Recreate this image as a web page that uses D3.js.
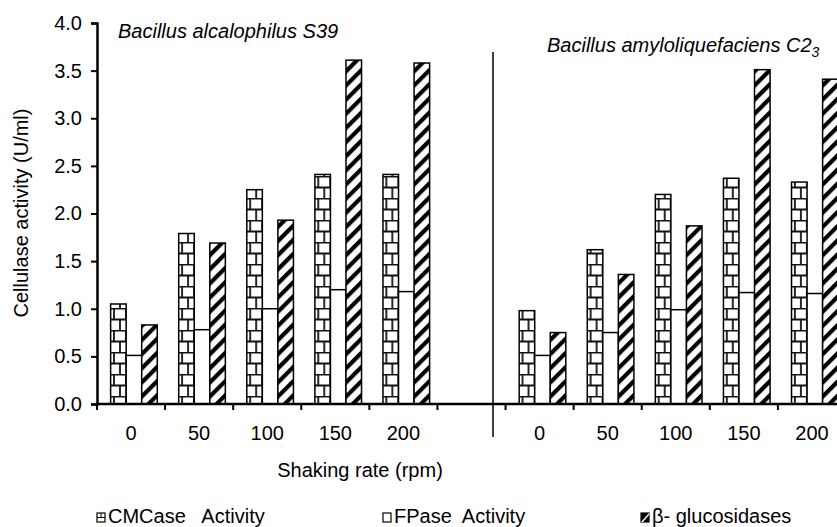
<!DOCTYPE html>
<html>
<head>
<meta charset="utf-8">
<script src="https://cdn.jsdelivr.net/npm/d3@7"></script>
<style>
  body { margin: 0; background: #fff; }
  text { font-family: "Liberation Sans", Arial, sans-serif; fill: #000; }
</style>
</head>
<body>
<svg width="837" height="527"></svg>
<script>
var width = 837
var height = 527
var fs = 20

// shaking rates, one group per strain
const rates = ["0", "50", "100", "150", "200"]
const series = ["CMCase   Activity", "FPase  Activity", "β- glucosidases"]

// Bacillus alcalophilus S39
const cmcS39 = [1.05, 1.79, 2.25, 2.41, 2.41]
const fpS39  = [0.51, 0.78, 1.00, 1.20, 1.18]
const bgS39  = [0.83, 1.69, 1.93, 3.61, 3.58]

// Bacillus amyloliquefaciens C2_3
const cmcC23 = [0.98, 1.62, 2.20, 2.37, 2.33]
const fpC23  = [0.51, 0.75, 0.99, 1.17, 1.16]
const bgC23  = [0.75, 1.36, 1.87, 3.51, 3.41]

const yTicks = [0, 0.5, 1, 1.5, 2, 2.5, 3, 3.5, 4]

// 11 slots: 5 rates, an empty one, 5 rates again
var slots = rates.concat([""]).concat(rates)
var rows = []
rates.forEach((r, i) => rows.push({slot: i, vals: [cmcS39[i], fpS39[i], bgS39[i]]}))
rates.forEach((r, i) => rows.push({slot: i + 6, vals: [cmcC23[i], fpC23[i], bgC23[i]]}))

const svg = d3.select("svg")

x = d3.scaleBand()
    .domain(d3.range(slots.length))
    .range([97, 846])

var bw = x.bandwidth()
xs = d3.scaleBand()
    .domain([0, 1, 2])
    .range([0.2 * bw, 0.885 * bw])

y = d3.scaleLinear()
    .domain([0, 4])
    .range([404, 23])

var defs = svg.append("defs")

// brick pattern for CMCase
var brick = defs.append("pattern")
  .attr("id", "brick")
  .attr("patternUnits", "userSpaceOnUse")
  .attr("width", 12).attr("height", 22)
brick.append("rect").attr("width", 12).attr("height", 22).attr("fill", "#fff")
brick.append("path")
  .attr("d", "M0,0.5H12M0,11.5H12M5,0V11.5M11,11.5V22")
  .attr("stroke", "#111").attr("stroke-width", 1.8).attr("fill", "none")

// diagonal stripes for beta-glucosidases
var diag = defs.append("pattern")
  .attr("id", "diag")
  .attr("patternUnits", "userSpaceOnUse")
  .attr("width", 10).attr("height", 10)
  .attr("patternTransform", "rotate(45)")
diag.append("rect").attr("width", 10).attr("height", 10).attr("fill", "#fff")
diag.append("rect").attr("width", 4.2).attr("height", 10).attr("fill", "#000")

var fills = ["url(#brick)", "#fff", "url(#diag)"]

// bars
var groups = svg.append("g")
  .selectAll("g")
  .data(rows)
  .enter().append("g")
  .attr("transform", d => "translate(" + x(d.slot) + ",0)")

groups.selectAll("rect")
  .data(d => d.vals.map((v, k) => ({k: k, v: v})))
  .enter().append("rect")
  .attr("x", d => xs(d.k))
  .attr("y", d => y(d.v))
  .attr("width", xs.bandwidth())
  .attr("height", d => y(0) - y(d.v))
  .attr("fill", d => fills[d.k])
  .attr("stroke", "#000")
  .attr("stroke-width", 1.5)

// y axis
const gy = svg.append("g")
  .attr("transform", "translate(97,0)")
  .call(d3.axisLeft(y).tickValues(yTicks).tickFormat(d3.format(".1f")).tickSize(6).tickPadding(9))
gy.select(".domain").attr("stroke-width", 2.5)
gy.selectAll(".tick line").attr("stroke-width", 2)
gy.selectAll("text").attr("font-size", fs).attr("font-family", "Liberation Sans, Arial, sans-serif")

// x axis: ticks sit on the slot borders
const gx = svg.append("g")
gx.append("line")
  .attr("x1", 96).attr("x2", 837)
  .attr("y1", y(0)).attr("y2", y(0))
  .attr("stroke", "#000").attr("stroke-width", 2.5)
gx.selectAll(".xt")
  .data(d3.range(slots.length))
  .enter().append("line")
  .attr("x1", d => x(d)).attr("x2", d => x(d))
  .attr("y1", y(0)).attr("y2", y(0) + 6)
  .attr("stroke", "#000").attr("stroke-width", 2)
gx.selectAll(".xl")
  .data(slots)
  .enter().append("text")
  .attr("x", (d, i) => x(i) + bw / 2)
  .attr("y", 440)
  .attr("text-anchor", "middle")
  .attr("font-size", fs)
  .text(d => d)

// divider between the strains
svg.append("line")
  .attr("x1", 493).attr("x2", 493)
  .attr("y1", 52).attr("y2", 437)
  .attr("stroke", "#000").attr("stroke-width", 1.5)

// strain titles
svg.append("text")
  .attr("x", 118).attr("y", 38)
  .attr("font-size", fs).attr("font-style", "italic")
  .text("Bacillus alcalophilus S39")

var t2 = svg.append("text")
  .attr("x", 547).attr("y", 52)
  .attr("font-size", fs).attr("font-style", "italic")
t2.append("tspan").text("Bacillus amyloliquefaciens C2")
t2.append("tspan").attr("dy", 5).attr("font-size", 14).text("3")

// axis titles
svg.append("text")
  .attr("transform", "translate(28,213) rotate(-90)")
  .attr("text-anchor", "middle")
  .attr("font-size", fs)
  .text("Cellulase activity (U/ml)")

svg.append("text")
  .attr("x", 360).attr("y", 477)
  .attr("text-anchor", "middle")
  .attr("font-size", fs)
  .text("Shaking rate (rpm)")

// legend
var legX = [97, 383, 641]
var leg = svg.append("g")
  .selectAll("g")
  .data(series)
  .enter().append("g")
  .attr("transform", (d, i) => "translate(" + legX[i] + ",513)")
leg.append("rect")
  .attr("width", 8).attr("height", 9)
  .attr("fill", (d, i) => i == 2 ? "#000" : "#fff")
  .attr("stroke", "#000").attr("stroke-width", 1.2)
leg.filter((d, i) => i == 0).append("path")
  .attr("d", "M0,4.5H8M4,0V4.5")
  .attr("stroke", "#000").attr("stroke-width", 1)
leg.filter((d, i) => i == 2).append("path")
  .attr("d", "M8,0L0,9V9H2L8,2Z")
  .attr("fill", "#fff")
leg.append("text")
  .attr("x", 11).attr("y", 10)
  .attr("font-size", fs)
  .style("white-space", "pre")
  .text(d => d)
</script>
</body>
</html>
